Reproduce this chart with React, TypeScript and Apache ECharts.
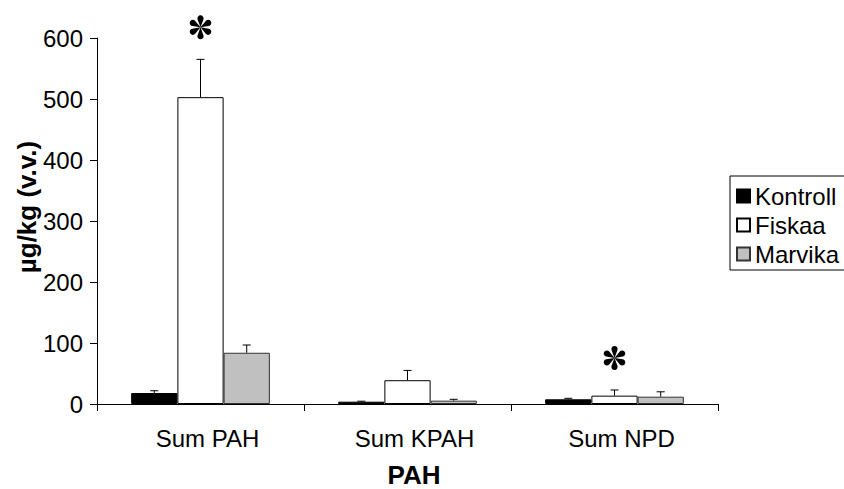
import React, { useEffect, useRef } from "react";
import * as echarts from "echarts";

const categories = ["Sum PAH", "Sum KPAH", "Sum NPD"];
const seriesNames = ["Kontroll", "Fiskaa", "Marvika"];
const kontroll = [18, 3.8, 7.7];
const fiskaa = [503, 39, 13.7];
const marvika = [84, 5.5, 12];
const kontrollErr = [3.7, 0.8, 1.6];
const fiskaaErr = [62, 16, 9.3];
const marvikaErr = [12.7, 2.2, 8];
const fiskaaSignificant = [true, false, true];
const yMin = 0;
const yMax = 600;
const yStep = 100;
const xTitle = "PAH";
const yTitle = "µg/kg (v.v.)";

const FONT = "'Liberation Sans', Arial, sans-serif";
const CAT_GAP = 0.33;

function asteriskPath(cx: number, cy: number, R: number): string {
  const c = 0.74 * R;
  const r = 0.26 * R;
  const t = Math.sqrt(c * c - r * r);
  const sa = r / c;
  const ca = Math.sqrt(1 - sa * sa);
  const p1 = [t * ca, -t * sa];
  const p2 = [t * ca, t * sa];
  const angles = [-90, -30, 30, 90, 150, 210];
  let d = "";
  for (const a of angles) {
    const th = (a * Math.PI) / 180;
    const cos = Math.cos(th);
    const sin = Math.sin(th);
    const tr = (p: number[]) => [cx + p[0] * cos - p[1] * sin, cy + p[0] * sin + p[1] * cos];
    const q1 = tr(p1);
    const q2 = tr(p2);
    d += `M${cx} ${cy} L${q1[0]} ${q1[1]} A${r} ${r} 0 1 1 ${q2[0]} ${q2[1]} Z `;
  }
  return d;
}

export default function App() {
  const ref = useRef<HTMLDivElement>(null);
  useEffect(() => {
    if (!ref.current) return;
    const chart = echarts.init(ref.current, undefined, { renderer: "svg" });
    const values = [kontroll, fiskaa, marvika];
    const errs = [kontrollErr, fiskaaErr, marvikaErr];
    const errData: number[][] = [];
    values.forEach((vals, g) => {
      vals.forEach((v, i) => errData.push([i, v, errs[g][i], g]));
    });
    const starData: number[][] = [];
    fiskaaSignificant.forEach((s, i) => {
      if (s) starData.push([i, fiskaa[i] + fiskaaErr[i]]);
    });

    const styles = [
      { color: "#000000", borderColor: "#000000", borderWidth: 1 },
      { color: "#ffffff", borderColor: "#000000", borderWidth: 1 },
      { color: "#c0c0c0", borderColor: "#333333", borderWidth: 1 },
    ];

    chart.setOption({
      animation: false,
      textStyle: { fontFamily: FONT },
      grid: { left: 97, right: 126, top: 38, bottom: 85, containLabel: false },
      legend: {
        orient: "vertical",
        left: 730,
        top: 176,
        padding: [8, 6, 4, 6],
        borderColor: "#000",
        borderWidth: 1,
        itemWidth: 13,
        itemHeight: 13,
        itemGap: 5,
        icon: "rect",
        textStyle: { fontSize: 24, color: "#000", fontFamily: FONT },
        data: seriesNames,
      },
      xAxis: {
        type: "category",
        data: categories,
        axisLine: { lineStyle: { color: "#000", width: 1 } },
        axisTick: { show: true, length: 7, lineStyle: { color: "#000" } },
        axisLabel: {
          fontSize: 24,
          color: "#000",
          margin: 22,
          padding: [0, 0, 0, 14],
          fontFamily: FONT,
        },
      },
      yAxis: {
        type: "value",
        min: yMin,
        max: yMax,
        interval: yStep,
        splitLine: { show: false },
        axisLine: { show: true, lineStyle: { color: "#000", width: 1 } },
        axisTick: { show: true, length: 7, lineStyle: { color: "#000" } },
        axisLabel: { fontSize: 24, color: "#000", margin: 14, fontFamily: FONT },
      },
      graphic: [
        {
          type: "text",
          x: 27,
          y: 207,
          rotation: Math.PI / 2,
          style: {
            text: yTitle,
            fontSize: 26,
            fontWeight: "bold",
            fontFamily: FONT,
            fill: "#000",
            align: "center",
            verticalAlign: "middle",
          },
        },
        {
          type: "text",
          x: 414,
          y: 488,
          style: {
            text: xTitle,
            fontSize: 26,
            fontWeight: "bold",
            fontFamily: FONT,
            fill: "#000",
            align: "center",
            verticalAlign: "bottom",
          },
        },
      ],
      series: [
        ...seriesNames.map((name, g) => ({
          name,
          type: "bar",
          data: values[g],
          barGap: "0%",
          barCategoryGap: `${CAT_GAP * 100}%`,
          itemStyle: styles[g],
          emphasis: { disabled: true },
          z: 2,
        })),
        {
          type: "custom",
          data: errData,
          z: 5,
          clip: false,
          encode: { x: 0, y: 1 },
          renderItem: (params: any, api: any) => {
            const cat = api.value(0);
            const v = api.value(1);
            const e = api.value(2);
            const g = api.value(3);
            const base = api.coord([cat, v]);
            const top = api.coord([cat, v + e]);
            const bandW = api.size([1, 0])[0];
            const barW = (bandW * (1 - CAT_GAP)) / 3;
            const x = base[0] + (g - 1) * barW;
            const style = { stroke: "#000", lineWidth: 1, fill: "none" };
            return {
              type: "group",
              children: [
                { type: "line", shape: { x1: x, y1: base[1], x2: x, y2: top[1] }, style },
                { type: "line", shape: { x1: x - 4, y1: top[1], x2: x + 4, y2: top[1] }, style },
              ],
            };
          },
        },
        {
          type: "custom",
          data: starData,
          z: 6,
          clip: false,
          encode: { x: 0, y: 1 },
          renderItem: (params: any, api: any) => {
            const p = api.coord([api.value(0), api.value(1)]);
            return {
              type: "path",
              shape: { pathData: asteriskPath(p[0], p[1] - 32, 12) },
              style: { fill: "#000", stroke: "none" },
            };
          },
        },
      ],
    });
    return () => chart.dispose();
  }, []);
  return (
    <div
      ref={ref}
      style={{ position: "fixed", left: 0, top: 0, width: 844, height: 489, background: "#fff" }}
    />
  );
}
